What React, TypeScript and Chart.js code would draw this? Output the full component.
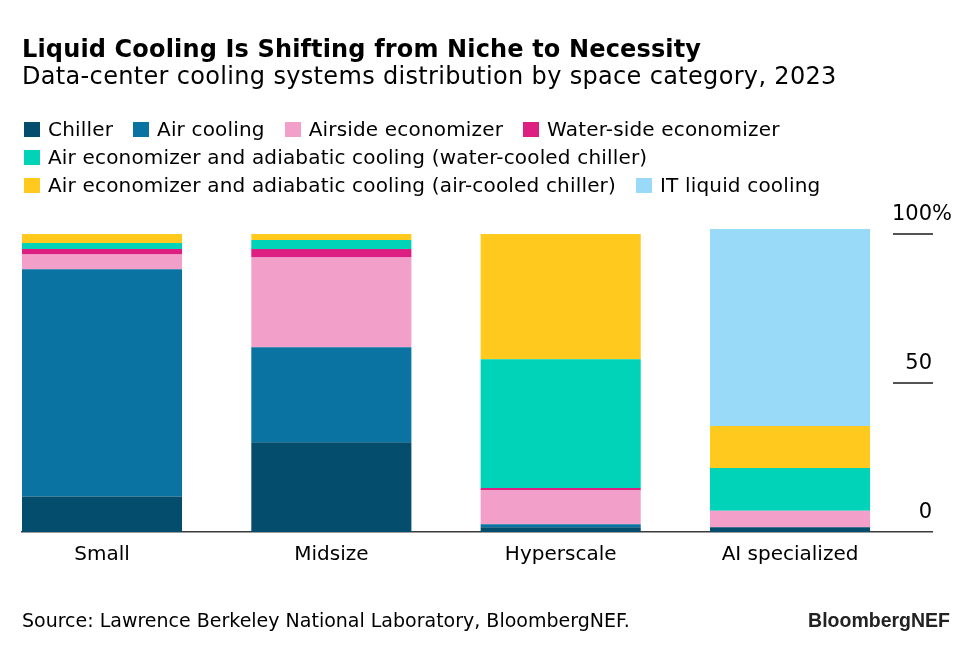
import React, { useEffect, useRef } from "react";
import { Chart, registerables } from "chart.js";

Chart.register(...registerables);

// ---- Data ----
const CATEGORIES = ["Small", "Midsize", "Hyperscale", "AI specialized"];

const SERIES_NAMES = [
  "Chiller",
  "Air cooling",
  "Airside economizer",
  "Water-side economizer",
  "Air economizer and adiabatic cooling (water-cooled chiller)",
  "Air economizer and adiabatic cooling (air-cooled chiller)",
  "IT liquid cooling",
];

const CHILLER = [11.9, 30.1, 1.6, 1.6];
const AIR_COOLING = [76.3, 31.9, 1.0, 0];
const AIRSIDE_ECONOMIZER = [4.9, 30.1, 11.5, 5.5];
const WATERSIDE_ECONOMIZER = [1.9, 2.9, 0.7, 0];
const AE_WATER_COOLED = [2.0, 3.0, 43.2, 14.4];
const AE_AIR_COOLED = [3.0, 2.0, 42.0, 14.1];
const IT_LIQUID_COOLING = [0, 0, 0, 66.1];

const SERIES_VALUES = [
  CHILLER,
  AIR_COOLING,
  AIRSIDE_ECONOMIZER,
  WATERSIDE_ECONOMIZER,
  AE_WATER_COOLED,
  AE_AIR_COOLED,
  IT_LIQUID_COOLING,
];

const COLORS = [
  "#054D6C",
  "#0A73A2",
  "#F2A0C9",
  "#DC1F80",
  "#00D3B7",
  "#FFC91D",
  "#98DAF8",
];

const Y_TICKS = [0, 50, 100];
const Y_TICK_LABELS = ["0", "50", "100"];
const Y_UNIT = "%";

const TITLE = "Liquid Cooling Is Shifting from Niche to Necessity";
const SUBTITLE = "Data-center cooling systems distribution by space category, 2023";
const SOURCE = "Source: Lawrence Berkeley National Laboratory, BloombergNEF.";
const LOGO = "BloombergNEF";

const FONT = '"DejaVu Sans", "Liberation Sans", sans-serif';

const yTickPlugin = {
  id: "yTickLabels",
  afterDraw(chart: any) {
    const y = chart.scales.y;
    const ctx = chart.ctx;
    const right = chart.chartArea.right;
    ctx.save();
    ctx.font = `21px ${FONT}`;
    ctx.fillStyle = "#000";
    ctx.textBaseline = "alphabetic";
    Y_TICKS.forEach((v, i) => {
      const py = y.getPixelForValue(v);
      if (v !== 0) {
        ctx.strokeStyle = "#1a1a1a";
        ctx.lineWidth = 1.4;
        ctx.beginPath();
        ctx.moveTo(right - 39, py);
        ctx.lineTo(right + 1, py);
        ctx.stroke();
      }
      ctx.textAlign = "right";
      ctx.fillText(Y_TICK_LABELS[i], right, py - 14);
      if (i === Y_TICKS.length - 1) {
        ctx.textAlign = "left";
        ctx.fillText(Y_UNIT, right, py - 14);
      }
    });
    ctx.restore();
  },
};

function ChartCanvas() {
  const ref = useRef<HTMLCanvasElement | null>(null);
  useEffect(() => {
    if (!ref.current) return;
    const chart = new Chart(ref.current, {
      type: "bar",
      data: {
        datasets: SERIES_VALUES.map((vals, si) => ({
          label: SERIES_NAMES[si],
          data: vals.map((v, i) => ({ x: i, y: v })),
          backgroundColor: COLORS[si],
          borderWidth: 0,
          grouped: false,
          categoryPercentage: 1,
          barPercentage: 0.698,
        })),
      },
      options: {
        animation: false,
        responsive: false,
        maintainAspectRatio: false,
        layout: { padding: { left: 22, right: 43, top: 204.2, bottom: 72 } },
        plugins: {
          legend: { display: false },
          tooltip: { enabled: false },
          title: { display: false },
        },
        scales: {
          x: {
            type: "linear",
            min: -0.3488,
            max: 3.619,
            bounds: "data",
            offset: false,
            grid: { display: false, drawTicks: false, offset: false },
            border: { display: true, color: "#3a3a3a", width: 1.6 },
            afterBuildTicks: (s: any) => {
              s.ticks = CATEGORIES.map((_, i) => ({ value: i }));
            },
            ticks: {
              autoSkip: false,
              includeBounds: false,
              maxRotation: 0,
              padding: 11,
              color: "#000",
              font: { family: FONT, size: 20 },
              callback: (v: any) => CATEGORIES[v] ?? "",
            },
          },
          y: {
            type: "linear",
            display: false,
            stacked: true,
            min: 0,
            max: 110,
          },
        },
      },
      plugins: [yTickPlugin],
    } as any);
    return () => chart.destroy();
  }, []);
  return (
    <canvas
      ref={ref}
      width={975}
      height={650}
      style={{ position: "absolute", left: 0, top: 0, width: 975, height: 650 }}
    />
  );
}

export default function App() {
  return (
    <div
      style={{
        position: "absolute",
        left: 0,
        top: 0,
        width: 975,
        height: 650,
        background: "#fff",
        color: "#000",
        fontFamily: FONT,
        overflow: "hidden",
      }}
    >
      <ChartCanvas />
      <div
        style={{
          position: "absolute",
          left: 22,
          top: 37.2,
          fontSize: 24,
          lineHeight: "24px",
          fontWeight: 700,
          letterSpacing: 0.15,
          whiteSpace: "nowrap",
        }}
      >
        {TITLE}
      </div>
      <div
        style={{
          position: "absolute",
          left: 22,
          top: 64,
          fontSize: 24,
          lineHeight: "24px",
          letterSpacing: 0.33,
          whiteSpace: "nowrap",
        }}
      >
        {SUBTITLE}
      </div>
      <div
        style={{
          position: "absolute",
          left: 24,
          top: 115,
          width: 900,
          display: "flex",
          flexWrap: "wrap",
          columnGap: 20,
          fontSize: 20,
          letterSpacing: 0.17,
          lineHeight: "28px",
        }}
      >
        {SERIES_NAMES.map((n, i) => (
          <div key={n} style={{ display: "flex", alignItems: "center", height: 28, whiteSpace: "nowrap" }}>
            <span
              style={{
                display: "inline-block",
                width: 16,
                height: 15,
                background: COLORS[i],
                marginRight: 8,
              }}
            />
            {n}
          </div>
        ))}
      </div>
      <div
        style={{
          position: "absolute",
          left: 22,
          top: 610,
          fontSize: 19,
          lineHeight: "20px",
          whiteSpace: "nowrap",
        }}
      >
        {SOURCE}
      </div>
      <div
        style={{
          position: "absolute",
          right: 25,
          top: 609.5,
          fontSize: 19.5,
          lineHeight: "20px",
          fontWeight: 700,
          fontFamily: '"Liberation Sans", Arial, sans-serif',
          color: "#222",
          whiteSpace: "nowrap",
        }}
      >
        {LOGO}
      </div>
    </div>
  );
}
